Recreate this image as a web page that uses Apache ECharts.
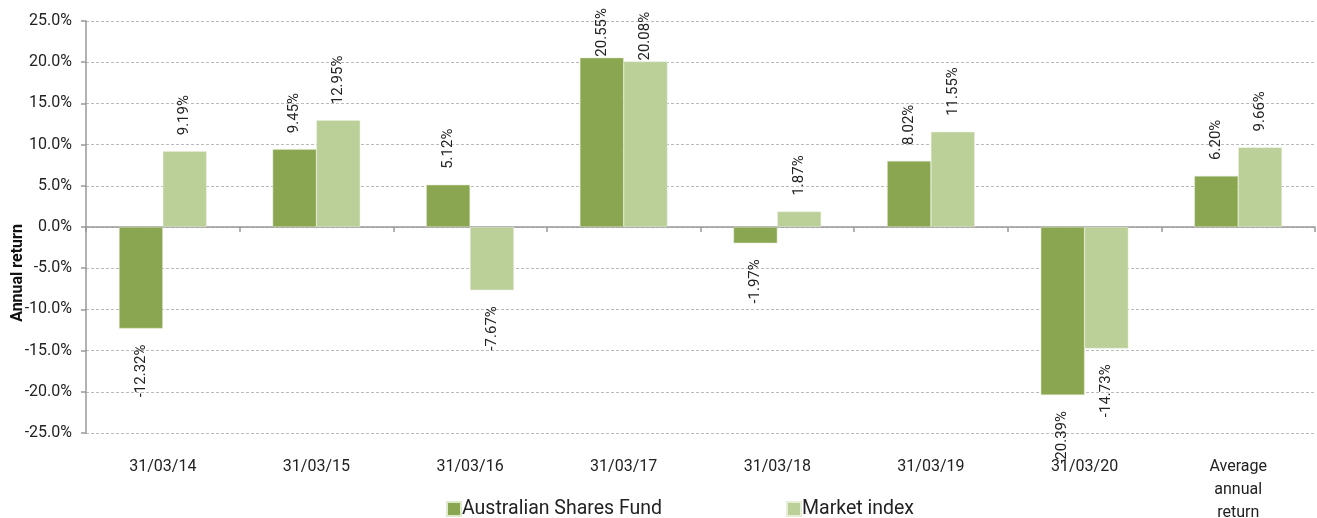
<!DOCTYPE html>
<html>
<head>
<meta charset="utf-8">
<script src="https://cdn.jsdelivr.net/npm/echarts@6/dist/echarts.min.js"></script>
<style>
  html, body { margin: 0; padding: 0; background: #fff; }
  #main { width: 1317px; height: 518px; }
</style>
</head>
<body>
<div id="main"></div>
<script type="text/javascript">
    // data
    var categories = ['31/03/14', '31/03/15', '31/03/16', '31/03/17', '31/03/18', '31/03/19', '31/03/20', 'Average\nannual\nreturn'];
    var fundValues = [-12.32, 9.45, 5.12, 20.55, -1.97, 8.02, -20.39, 6.20];
    var indexValues = [9.19, 12.95, -7.67, 20.08, 1.87, 11.55, -14.73, 9.66];
    var seriesNames = ['Australian Shares Fund', 'Market index'];
    var yMin = -25, yMax = 25, yStep = 5;

    var fontName = 'Roboto';

    // rotated value labels, above positive bars and below negative ones
    function makeData(values) {
        return values.map(function (v) {
            var pos = v >= 0;
            return {
                value: v,
                label: {
                    position: pos ? 'top' : 'bottom',
                    align: pos ? 'left' : 'right',
                    distance: v > 19 ? 1 : 16
                }
            };
        });
    }

    var myChart = echarts.init(document.getElementById('main'));
    var option = {
        animation: false,
        color: ['#8ba650', '#bbcf98'],
        textStyle: { fontFamily: fontName },
        grid: {
            left: 86,
            right: 2,
            top: 21,
            bottom: 85,
            outerBoundsMode: 'none',
            containLabel: false
        },
        legend: {
            data: seriesNames,
            left: 441,
            top: 494,
            icon: 'rect',
            itemWidth: 14,
            itemHeight: 14,
            itemGap: 124,
            textStyle: { fontSize: 19.5, color: '#222', fontFamily: fontName, padding: [0, 0, 0, -4] }
        },
        xAxis: [
            {
                type: 'category',
                data: categories,
                position: 'bottom',
                axisLine: { onZero: true, lineStyle: { color: '#999', width: 1.5 } },
                axisTick: { show: true, length: 5, lineStyle: { color: '#999', width: 1.5 } },
                axisLabel: { show: false },
                splitLine: { show: false }
            },
            {
                type: 'category',
                data: categories,
                position: 'bottom',
                axisLine: { show: false, onZero: false },
                axisTick: { show: false },
                axisLabel: {
                    margin: 22,
                    fontSize: 16,
                    lineHeight: 23,
                    color: '#222',
                    fontFamily: fontName,
                    interval: 0
                },
                splitLine: { show: false }
            }
        ],
        yAxis: {
            type: 'value',
            min: yMin,
            max: yMax,
            interval: yStep,
            name: 'Annual return',
            nameLocation: 'middle',
            nameGap: 60,
            nameMoveOverlap: false,
            nameTextStyle: {
                fontSize: 16,
                fontWeight: 'bold',
                color: '#111',
                fontFamily: fontName,
                padding: [0, 92, 0, 0]
            },
            axisLine: { show: true, lineStyle: { color: '#999', width: 1.5 } },
            axisTick: { show: true, length: 5, lineStyle: { color: '#999', width: 1.5 } },
            axisLabel: {
                margin: 14,
                fontSize: 16,
                color: '#222',
                fontFamily: fontName,
                formatter: function (v) { return v.toFixed(1) + '%'; }
            },
            splitLine: { show: true, lineStyle: { color: '#bbb', type: [3, 2], width: 1 } }
        },
        series: [
            {
                name: seriesNames[0],
                type: 'bar',
                xAxisIndex: 0,
                data: makeData(fundValues),
                barGap: '0%',
                barCategoryGap: '43%',
                itemStyle: { borderColor: '#dfe9cc', borderWidth: 0.5 },
                label: {
                    show: true,
                    rotate: 90,
                    verticalAlign: 'middle',
                    fontSize: 15,
                    color: '#222',
                    fontFamily: fontName,
                    formatter: function (p) { return p.value.toFixed(2) + '%'; }
                }
            },
            {
                name: seriesNames[1],
                type: 'bar',
                xAxisIndex: 0,
                data: makeData(indexValues),
                barGap: '0%',
                barCategoryGap: '43%',
                itemStyle: { borderColor: '#e6eed8', borderWidth: 0.5 },
                label: {
                    show: true,
                    rotate: 90,
                    verticalAlign: 'middle',
                    fontSize: 15,
                    color: '#222',
                    fontFamily: fontName,
                    formatter: function (p) { return p.value.toFixed(2) + '%'; }
                }
            }
        ]
    };
    myChart.setOption(option);
</script>
</body>
</html>
